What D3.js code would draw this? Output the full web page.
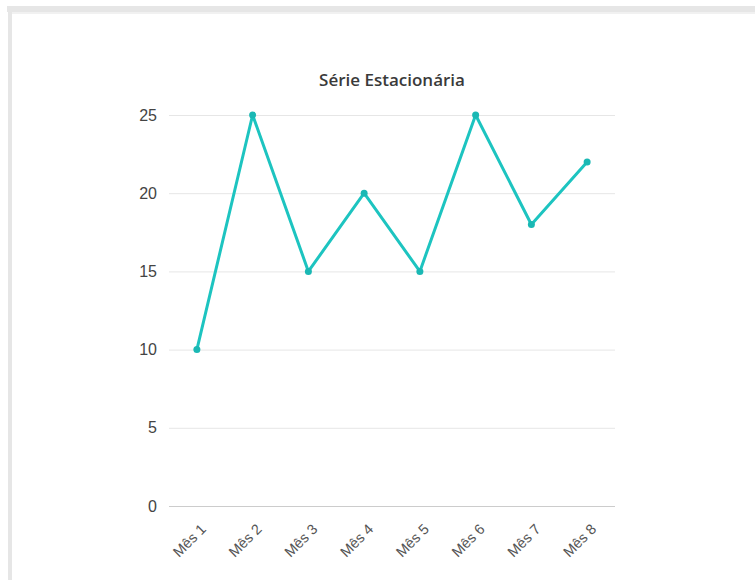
<!DOCTYPE html>
<html>
<head>
<meta charset="utf-8">
<script src="https://cdn.jsdelivr.net/npm/d3@7"></script>
<style>
  html, body { margin: 0; padding: 0; background: #fff; }
  svg { display: block; }
</style>
</head>
<body>
<svg id="chart" width="755" height="580"></svg>
<script>
const title = "Série Estacionária";
const categories = ["Mês 1", "Mês 2", "Mês 3", "Mês 4", "Mês 5", "Mês 6", "Mês 7", "Mês 8"];
const values = [10, 25, 15, 20, 15, 25, 18, 22];
const yTicks = [0, 5, 10, 15, 20, 25];

const svg = d3.select("#chart");
const W = 755, H = 580;

// frame
svg.append("rect").attr("x", 0).attr("y", 0).attr("width", W).attr("height", H).attr("fill", "#fff");
svg.append("rect").attr("x", 7).attr("y", 6).attr("width", W - 7).attr("height", 6).attr("fill", "#e6e6e6");
svg.append("rect").attr("x", 8).attr("y", 6).attr("width", 4).attr("height", H - 6).attr("fill", "#e6e6e6");
svg.append("rect").attr("x", 12).attr("y", 12).attr("width", W - 12).attr("height", 2).attr("fill", "#f1f1f1");

const mLeft = 169, mRight = 615, mTop = 115, mBottom = 506;

const x = d3.scaleBand().domain(categories).range([mLeft, mRight]);
const y = d3.scaleLinear().domain([0, 25]).range([mBottom, mTop]);

// title
svg.append("text")
  .attr("x", 392).attr("y", 86)
  .attr("text-anchor", "middle")
  .attr("font-family", "'Open Sans', Lato, sans-serif")
  .attr("font-size", 17)
  .attr("font-weight", 600)
  .attr("fill", "#3a3a3a")
  .text(title);

// y grid + labels
const yAxis = d3.axisLeft(y).tickValues(yTicks).tickSize(-(mRight - mLeft)).tickPadding(12);
const gy = svg.append("g").attr("transform", `translate(${mLeft},0)`).call(yAxis);
gy.select(".domain").remove();
gy.selectAll(".tick line").attr("stroke", d => d === 0 ? "#ccc" : "#e6e6e6").attr("stroke-width", 1);
gy.selectAll(".tick text")
  .attr("font-family", "'Liberation Sans', Arial, sans-serif")
  .attr("font-size", 16)
  .attr("fill", "#444");

// x axis labels
const xAxis = d3.axisBottom(x).tickSize(0).tickPadding(0);
const gx = svg.append("g").attr("transform", `translate(0,${mBottom})`).call(xAxis);
gx.select(".domain").remove();
gx.selectAll(".tick text")
  .attr("font-family", "'Liberation Sans', Arial, sans-serif")
  .attr("font-size", 14.5)
  .attr("fill", "#555")
  .attr("text-anchor", "end")
  .attr("dy", 0)
  .attr("transform", "translate(10,24) rotate(-45)");

// line
const cx = d => x(d) + x.bandwidth() / 2;
const line = d3.line().x((d, i) => cx(categories[i])).y(d => y(d));
svg.append("path")
  .datum(values)
  .attr("d", line)
  .attr("fill", "none")
  .attr("stroke", "#1dc4c0")
  .attr("stroke-width", 3)
  .attr("stroke-linejoin", "round");

svg.selectAll("circle.pt")
  .data(values)
  .join("circle")
  .attr("class", "pt")
  .attr("cx", (d, i) => cx(categories[i]))
  .attr("cy", d => y(d))
  .attr("r", 3.5)
  .attr("fill", "#1ab8b4");
</script>
</body>
</html>
